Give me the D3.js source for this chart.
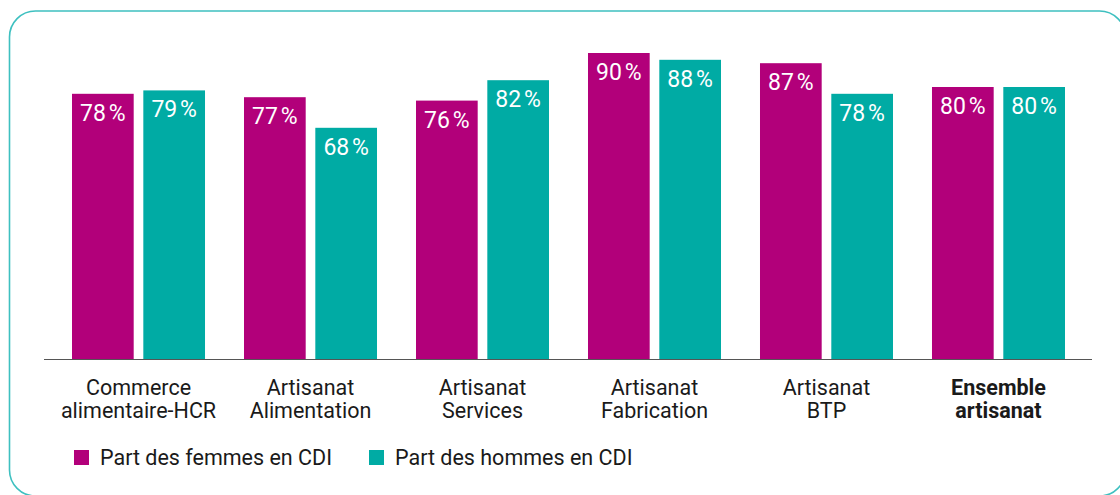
<!DOCTYPE html>
<html>
<head>
<meta charset="utf-8">
<script src="https://cdn.jsdelivr.net/npm/d3@7"></script>
<style>
  body { margin: 0; background: #fff; }
  svg { display: block; font-family: Roboto, "Noto Sans", sans-serif; }
</style>
</head>
<body>
<script>
'use strict';

var categories = [
    ['Commerce', 'alimentaire-HCR'],
    ['Artisanat', 'Alimentation'],
    ['Artisanat', 'Services'],
    ['Artisanat', 'Fabrication'],
    ['Artisanat', 'BTP'],
    ['Ensemble', 'artisanat']
];
var femmes = [78, 77, 76, 90, 87, 80];
var hommes = [79, 68, 82, 88, 78, 80];
var seriesNames = ['Part des femmes en CDI', 'Part des hommes en CDI'];
var colors = ['#b2007a', '#00aba4'];

var w = 1120,
    h = 495;

var svg = d3.select('body')
    .append('svg')
    .attr('width', w)
    .attr('height', h);

/** rounded frame */
svg.append('rect')
    .attr('x', 9.5)
    .attr('y', 11)
    .attr('width', 1116)
    .attr('height', 485)
    .attr('rx', 26)
    .attr('fill', 'none')
    .attr('stroke', '#3ec0c0')
    .attr('stroke-width', 1.6);

var idx = d3.range(categories.length);

var x = d3.scaleBand()
    .domain(idx)
    .range([52.5, 1084.5])
    .paddingInner(0.2267)
    .paddingOuter(0.1134);

var x1 = d3.scaleBand()
    .domain([0, 1])
    .range([0, x.bandwidth()])
    .paddingInner(0.135);

var y = d3.scaleLinear()
    .domain([0, 100])
    .range([359, 19]);

var rows = idx.map(function(i) {
    return [femmes[i], hommes[i]];
});

var groups = svg.selectAll('g.group')
    .data(rows)
    .enter()
    .append('g')
    .attr('class', 'group')
    .attr('transform', function(d, i) {
        return 'translate(' + x(i) + ',0)';
    });

groups.selectAll('rect')
    .data(function(d) { return d; })
    .enter()
    .append('rect')
    .attr('x', function(d, j) { return x1(j); })
    .attr('y', function(d) { return y(d); })
    .attr('width', x1.bandwidth())
    .attr('height', function(d) { return y(0) - y(d); })
    .attr('fill', function(d, j) { return colors[j]; });

groups.selectAll('text')
    .data(function(d) { return d; })
    .enter()
    .append('text')
    .attr('x', function(d, j) { return x1(j) + x1.bandwidth() / 2; })
    .attr('y', function(d) { return y(d) + 27; })
    .attr('text-anchor', 'middle')
    .attr('fill', '#fff')
    .style('font-size', '23px')
    .text(function(d) { return d + '\u202F%'; });

/** baseline */
svg.append('line')
    .attr('x1', 44)
    .attr('x2', 1092)
    .attr('y1', y(0) + 0.5)
    .attr('y2', y(0) + 0.5)
    .attr('stroke', '#555')
    .attr('stroke-width', 1.2);

/** category labels */
var labels = svg.selectAll('text.cat')
    .data(categories)
    .enter()
    .append('text')
    .attr('class', 'cat')
    .attr('text-anchor', 'middle')
    .attr('fill', '#1a1a1a')
    .style('font-size', '21.5px')
    .style('font-weight', function(d, i) { return i === categories.length - 1 ? 'bold' : 'normal'; });

labels.selectAll('tspan')
    .data(function(d, i) { return d.map(function(t) { return { t: t, i: i }; }); })
    .enter()
    .append('tspan')
    .attr('x', function(d) { return x(d.i) + x.bandwidth() / 2; })
    .attr('y', function(d, k) { return 395 + k * 23; })
    .text(function(d) { return d.t; });

/** legend */
var legend = svg.selectAll('g.legend')
    .data(seriesNames)
    .enter()
    .append('g')
    .attr('class', 'legend')
    .attr('transform', function(d, i) {
        return 'translate(' + (i === 0 ? 74 : 369) + ',450)';
    });

legend.append('rect')
    .attr('width', 15)
    .attr('height', 15)
    .attr('fill', function(d, i) { return colors[i]; });

legend.append('text')
    .attr('x', 26)
    .attr('y', 15)
    .attr('fill', '#1a1a1a')
    .style('font-size', '21.5px')
    .text(function(d) { return d; });
</script>
</body>
</html>
